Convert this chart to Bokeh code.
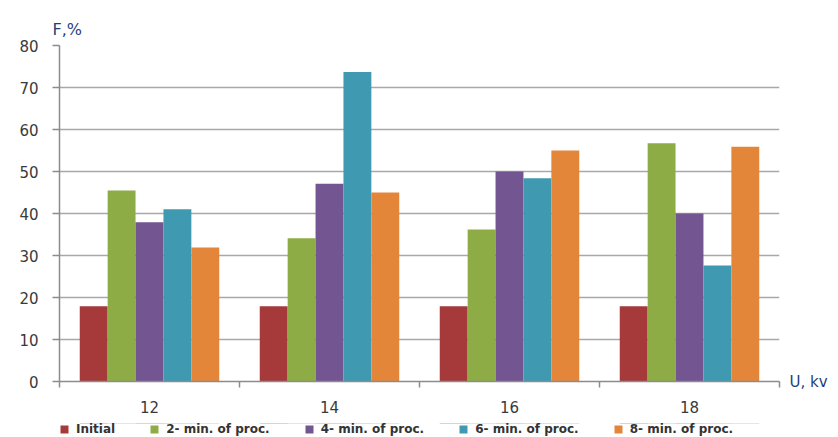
import numpy as np
from bokeh.plotting import figure
from bokeh.layouts import column
from bokeh.models import FixedTicker, Legend, LegendItem, LinearAxis, Title
from bokeh.embed import file_html
from bokeh.resources import INLINE

categories = ["12", "14", "16", "18"]
series_names = ["Initial", "2- min. of proc.", "4- min. of proc.",
                "6- min. of proc.", "8- min. of proc."]
initial = [17.9, 17.9, 17.9, 17.9]
min2 = [45.5, 34.1, 36.2, 56.7]
min4 = [37.9, 47.1, 50.0, 40.0]
min6 = [41.0, 73.7, 48.4, 27.6]
min8 = [31.9, 45.0, 55.0, 55.9]
colors = ["#A63A3A", "#8EAC46", "#735592", "#3F99B1", "#E3863A"]
y_ticks = [0, 10, 20, 30, 40, 50, 60, 70, 80]
y_title = "F,%"
x_title = "U, kv"

series = [initial, min2, min4, min6, min8]

p = figure(width=838, height=423, x_range=(0, 4), y_range=(0, 80),
           output_backend="svg", toolbar_location=None,
           min_border_left=59, min_border_right=59,
           min_border_top=45, min_border_bottom=42)
p.outline_line_color = None
p.background_fill_color = "white"
p.border_fill_color = "white"

bar_w = 0.155
idx = np.arange(len(categories))
for i, (vals, col) in enumerate(zip(series, colors)):
    xs = idx + 0.5 + (i - 2) * bar_w
    p.vbar(x=xs, top=vals, width=bar_w, fill_color=col, line_color=None)

# x axis: labels at category centres, tick marks at boundaries
p.xaxis.ticker = FixedTicker(ticks=list(idx + 0.5),
                             minor_ticks=list(range(len(categories) + 1)))
p.xaxis.major_label_overrides = {float(i + 0.5): c for i, c in enumerate(categories)}
p.xaxis.major_tick_out = 0
p.xaxis.major_tick_in = 0
p.xaxis.minor_tick_out = 6
p.xaxis.minor_tick_in = 0
p.xaxis.minor_tick_line_color = "#8C8C8C"
p.xaxis.minor_tick_line_width = 1.5
p.xaxis.major_label_standoff = 13
p.xgrid.visible = False

p.yaxis.ticker = FixedTicker(ticks=y_ticks)
p.yaxis.major_tick_out = 7
p.yaxis.major_tick_in = 0
p.yaxis.minor_tick_line_color = None
p.yaxis.major_tick_line_color = "#8C8C8C"
p.yaxis.major_tick_line_width = 1.5
p.yaxis.major_label_standoff = 14

for ax in (p.xaxis, p.yaxis):
    ax.axis_line_color = "#8C8C8C"
    ax.axis_line_width = 1.5
    ax.major_label_text_font = "DejaVu Sans"
    ax.major_label_text_font_size = "15px"
    ax.major_label_text_color = "#3A3A3A"

p.ygrid.grid_line_color = "#A8A8A8"
p.ygrid.grid_line_width = 1.5

# "U, kv" as a label-only axis on the right, at y = 0
right_ax = LinearAxis(ticker=FixedTicker(ticks=[0]),
                      major_label_overrides={0: x_title},
                      axis_line_color=None, major_tick_line_color=None,
                      minor_tick_line_color=None, major_label_standoff=4,
                      major_label_text_font="DejaVu Sans",
                      major_label_text_font_size="15px",
                      major_label_text_color="#1F3F7A")
p.add_layout(right_ax, "right")

# "F,%" as a title above the frame, at its left
p.add_layout(Title(text=y_title, align="left", offset=-7, standoff=14,
                   text_font="DejaVu Sans", text_font_size="16px",
                   text_font_style="normal", text_color="#1F3F7A"), "above")

# legend strip below the chart; its bars fall outside its y range, only the swatches show
lf = figure(width=838, height=14, x_range=(0, 4), y_range=(-2, -1),
            output_backend="svg", toolbar_location=None,
            x_axis_location=None, y_axis_location=None, min_border=0)
lf.outline_line_color = None
lf.grid.visible = False
swatches = []
for i, (vals, col) in enumerate(zip(series, colors)):
    xs = idx + 0.5 + (i - 2) * bar_w
    swatches.append(lf.vbar(x=xs, top=vals, width=bar_w, fill_color=col, line_color=None))

legend = Legend(items=[LegendItem(label=n, renderers=[r]) for n, r in zip(series_names, swatches)],
                orientation="horizontal", location=(0, 1),
                glyph_width=10, glyph_height=10, label_height=12, label_standoff=7,
                spacing=34, padding=0, margin=0,
                border_line_color=None, background_fill_alpha=0,
                label_text_font="DejaVu Sans", label_text_font_size="12px",
                label_text_font_style="bold", label_text_color="#333333")
lf.add_layout(legend)

layout = column(p, lf, spacing=0)
open("out.html", "w").write(file_html(layout, INLINE))
